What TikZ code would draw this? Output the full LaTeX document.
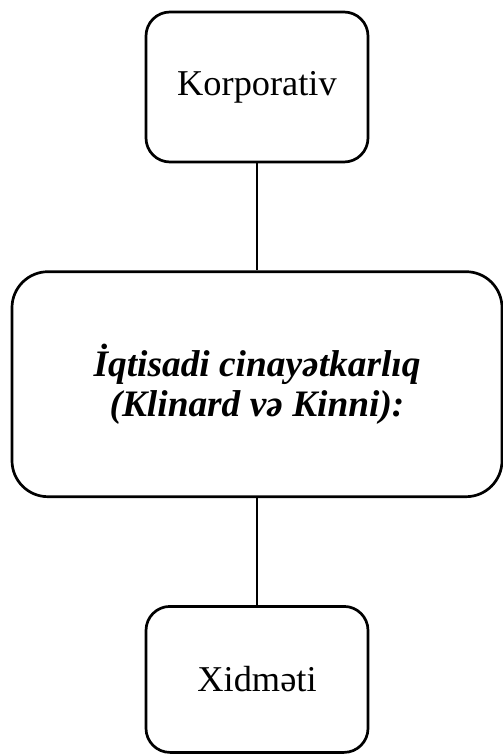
\documentclass[tikz,border=0pt]{standalone}
\usepackage{fontspec}
\setmainfont{Liberation Serif}
\usetikzlibrary{positioning}

\begin{document}
\begin{tikzpicture}[
  node distance=107bp,
  box/.style={draw=black,rounded corners=24bp,line width=2.7bp,
              minimum height=150bp,minimum width=222bp,align=center,
              font=\fontsize{36.5}{40}\selectfont,inner sep=3pt},
  mainbox/.style={box,rounded corners=36bp,minimum width=490bp,minimum height=225bp,
              font=\fontsize{37.5}{40}\selectfont\bfseries\itshape},
  link/.style={draw=black,line width=2.7bp}]

  \useasboundingbox (0,0) rectangle (503bp,-755bp);

  \node[box] (korp) at (257bp,-87bp) {Korporativ};
  \node[mainbox,below=of korp] (crime) {İqtisadi cinayətkarlıq\\(Klinard və Kinni):};
  \node[box,minimum height=146bp,below=of crime] (xidm) {Xidməti};

  \draw[link] (korp.south) -- (crime.north);
  \draw[link] (crime.south) -- (xidm.north);
\end{tikzpicture}
\end{document}
